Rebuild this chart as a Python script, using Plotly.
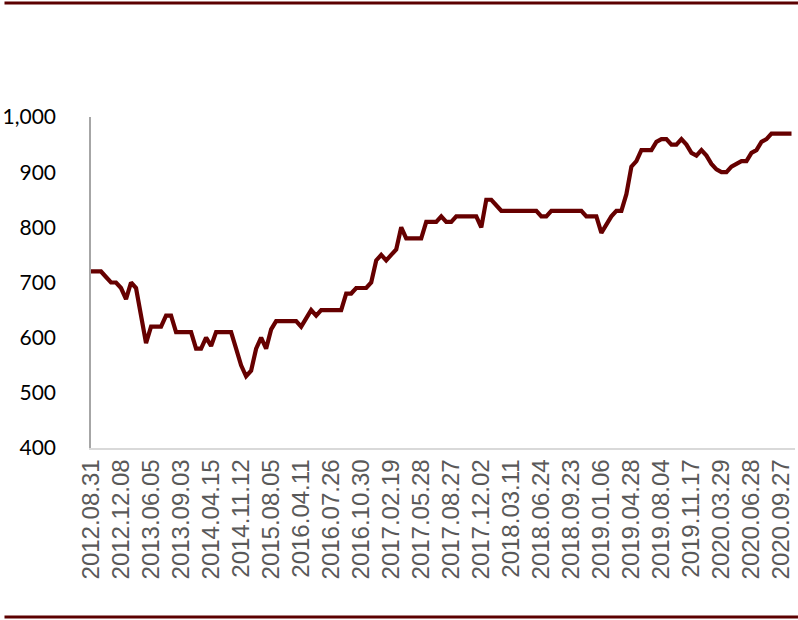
import plotly.graph_objects as go

# Tick labels shown on the category axis (every 6th observation)
tick_labels = ["2012.08.31", "2012.12.08", "2013.06.05", "2013.09.03", "2014.04.15",
               "2014.11.12", "2015.08.05", "2016.04.11", "2016.07.26", "2016.10.30",
               "2017.02.19", "2017.05.28", "2017.08.27", "2017.12.02", "2018.03.11",
               "2018.06.24", "2018.09.23", "2019.01.06", "2019.04.28", "2019.08.04",
               "2019.11.17", "2020.03.29", "2020.06.28", "2020.09.27"]
label_step = 6

values = [720, 720, 720, 710, 700, 700, 690, 670, 700, 690,
          640, 590, 620, 620, 620, 640, 640, 610, 610, 610,
          610, 580, 580, 600, 585, 610, 610, 610, 610, 580,
          550, 530, 540, 580, 600, 580, 615, 630, 630, 630,
          630, 630, 620, 635, 650, 640, 650, 650, 650, 650,
          650, 680, 680, 690, 690, 690, 700, 740, 750, 740,
          750, 760, 800, 780, 780, 780, 780, 810, 810, 810,
          820, 810, 810, 820, 820, 820, 820, 820, 800, 850,
          850, 840, 830, 830, 830, 830, 830, 830, 830, 830,
          820, 820, 830, 830, 830, 830, 830, 830, 830, 820,
          820, 820, 790, 805, 820, 830, 830, 860, 910, 920,
          940, 940, 940, 955, 960, 960, 950, 950, 960, 950,
          935, 930, 940, 930, 915, 905, 900, 900, 910, 915,
          920, 920, 935, 940, 955, 960, 970, 970, 970, 970,
          970]

x_idx = list(range(len(values)))
tick_vals = [i * label_step for i in range(len(tick_labels))]

DARK_RED = "#660000"

fig = go.Figure()
fig.add_trace(go.Scatter(
    x=x_idx, y=values, mode="lines",
    line=dict(color=DARK_RED, width=4.2),
    hoverinfo="skip", showlegend=False,
))

W, H = 798, 620
ml, mr, mt, mb = 87, 3, 117, 172
ph = H - mt - mb
pw = W - ml - mr

def py(pix):
    return 1 + (mt - pix) / ph

fig.update_layout(
    width=W, height=H,
    margin=dict(l=ml, r=mr, t=mt, b=mb, pad=0),
    paper_bgcolor="white", plot_bgcolor="white",
    showlegend=False,
    xaxis=dict(
        range=[0, 140.7],
        tickmode="array", tickvals=tick_vals, ticktext=tick_labels,
        tickangle=-90,
        tickfont=dict(family="Liberation Sans, Arial, sans-serif", size=24, color="#595959"),
        showgrid=False, zeroline=False,
        showline=True, linecolor="#D9D9D9", linewidth=1.5,
        ticks="", ticklabelstandoff=0,
    ),
    yaxis=dict(
        range=[400, 1000],
        tickmode="array", tickvals=[400, 500, 600, 700, 800, 900, 1000],
        tickformat=",",
        tickfont=dict(family="Lato, Carlito, sans-serif", size=21, color="#000000"),
        showgrid=False, zeroline=False,
        showline=True, linecolor="#A6A6A6", linewidth=1.5,
        ticks="", ticklabelstandoff=29,
    ),
    shapes=[
        dict(type="line", xref="paper", yref="paper",
             x0=-ml / pw, x1=1 + mr / pw, y0=py(3), y1=py(3),
             line=dict(color="#5C0000", width=3)),
        dict(type="line", xref="paper", yref="paper",
             x0=-ml / pw, x1=1 + mr / pw, y0=py(617), y1=py(617),
             line=dict(color="#5C0000", width=3)),
    ],
)

fig.write_html("out.html", config={"displayModeBar": False},
               post_script="document.body.style.margin='0';")
